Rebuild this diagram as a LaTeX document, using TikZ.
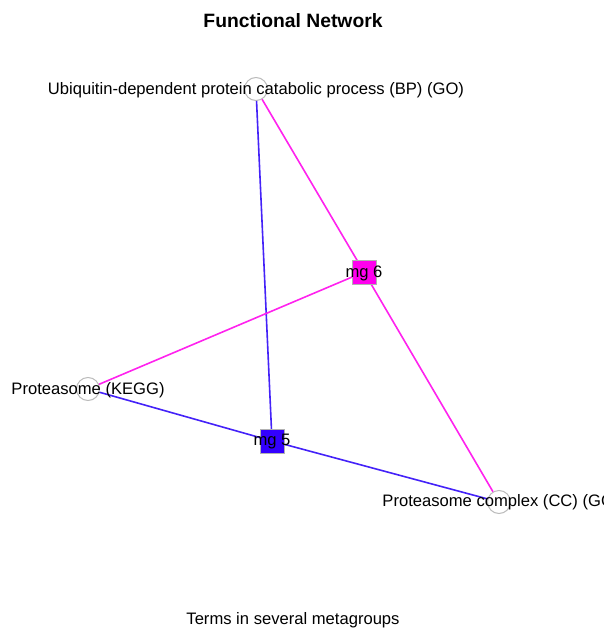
\documentclass[tikz,border=0pt]{standalone}
\usepackage{fontspec}
\setmainfont{Liberation Sans}
\definecolor{edgeblue}{HTML}{4422F8}
\definecolor{edgemag}{HTML}{FF22EE}
\definecolor{sqblue}{HTML}{3300FF}
\definecolor{sqmag}{HTML}{FF00EE}
\definecolor{ringgray}{HTML}{BBBBBB}
\begin{document}
\begin{tikzpicture}[x=1pt,y=-1pt,
  term/.style={circle,draw=ringgray,line width=1pt,minimum size=23pt,inner sep=0pt},
  lbl/.style={inner sep=0pt,font=\fontsize{16.6}{19}\selectfont},
  mgbox/.style={rectangle,draw=gray!60,line width=1pt,minimum size=24pt,inner sep=0pt},
  blueedge/.style={draw=edgeblue,line width=1.6pt},
  magedge/.style={draw=edgemag,line width=1.6pt}]
\useasboundingbox (0,0) rectangle (603,629);
\clip (0,0) rectangle (603,629);
\node[inner sep=0pt,font=\bfseries\fontsize{19.3}{22}\selectfont] (title) at (293,21) {Functional Network};
\node[lbl] (foot) at (293,620) {Terms in several metagroups};
\node[term] (ubi) at (256,89) {};
\node[term] (kegg) at (88,389) {};
\node[term] (cc) at (499,502) {};
\coordinate (m6) at (364,272);
\coordinate (m5) at (272,441);
\draw[blueedge] (ubi) -- (m5);
\draw[blueedge] (kegg) -- (m5);
\draw[blueedge] (cc) -- (m5);
\draw[magedge] (ubi) -- (m6);
\draw[magedge] (kegg) -- (m6);
\draw[magedge] (cc) -- (m6);
\node[lbl] (ubil) at (256,90.5) {Ubiquitin-dependent protein catabolic process (BP) (GO)};
\node[lbl] (keggl) at (88,390) {Proteasome (KEGG)};
\node[lbl] (ccl) at (501,502) {Proteasome complex (CC) (GO)};
\node[mgbox,fill=sqmag] (mg6) at (m6) {};
\node[mgbox,fill=sqblue] (mg5) at (m5) {};
\node[lbl] (mg6l) at ([yshift=-1pt]m6) {mg 6};
\node[lbl] (mg5l) at ([yshift=-1pt]m5) {mg 5};
\end{tikzpicture}
\end{document}
